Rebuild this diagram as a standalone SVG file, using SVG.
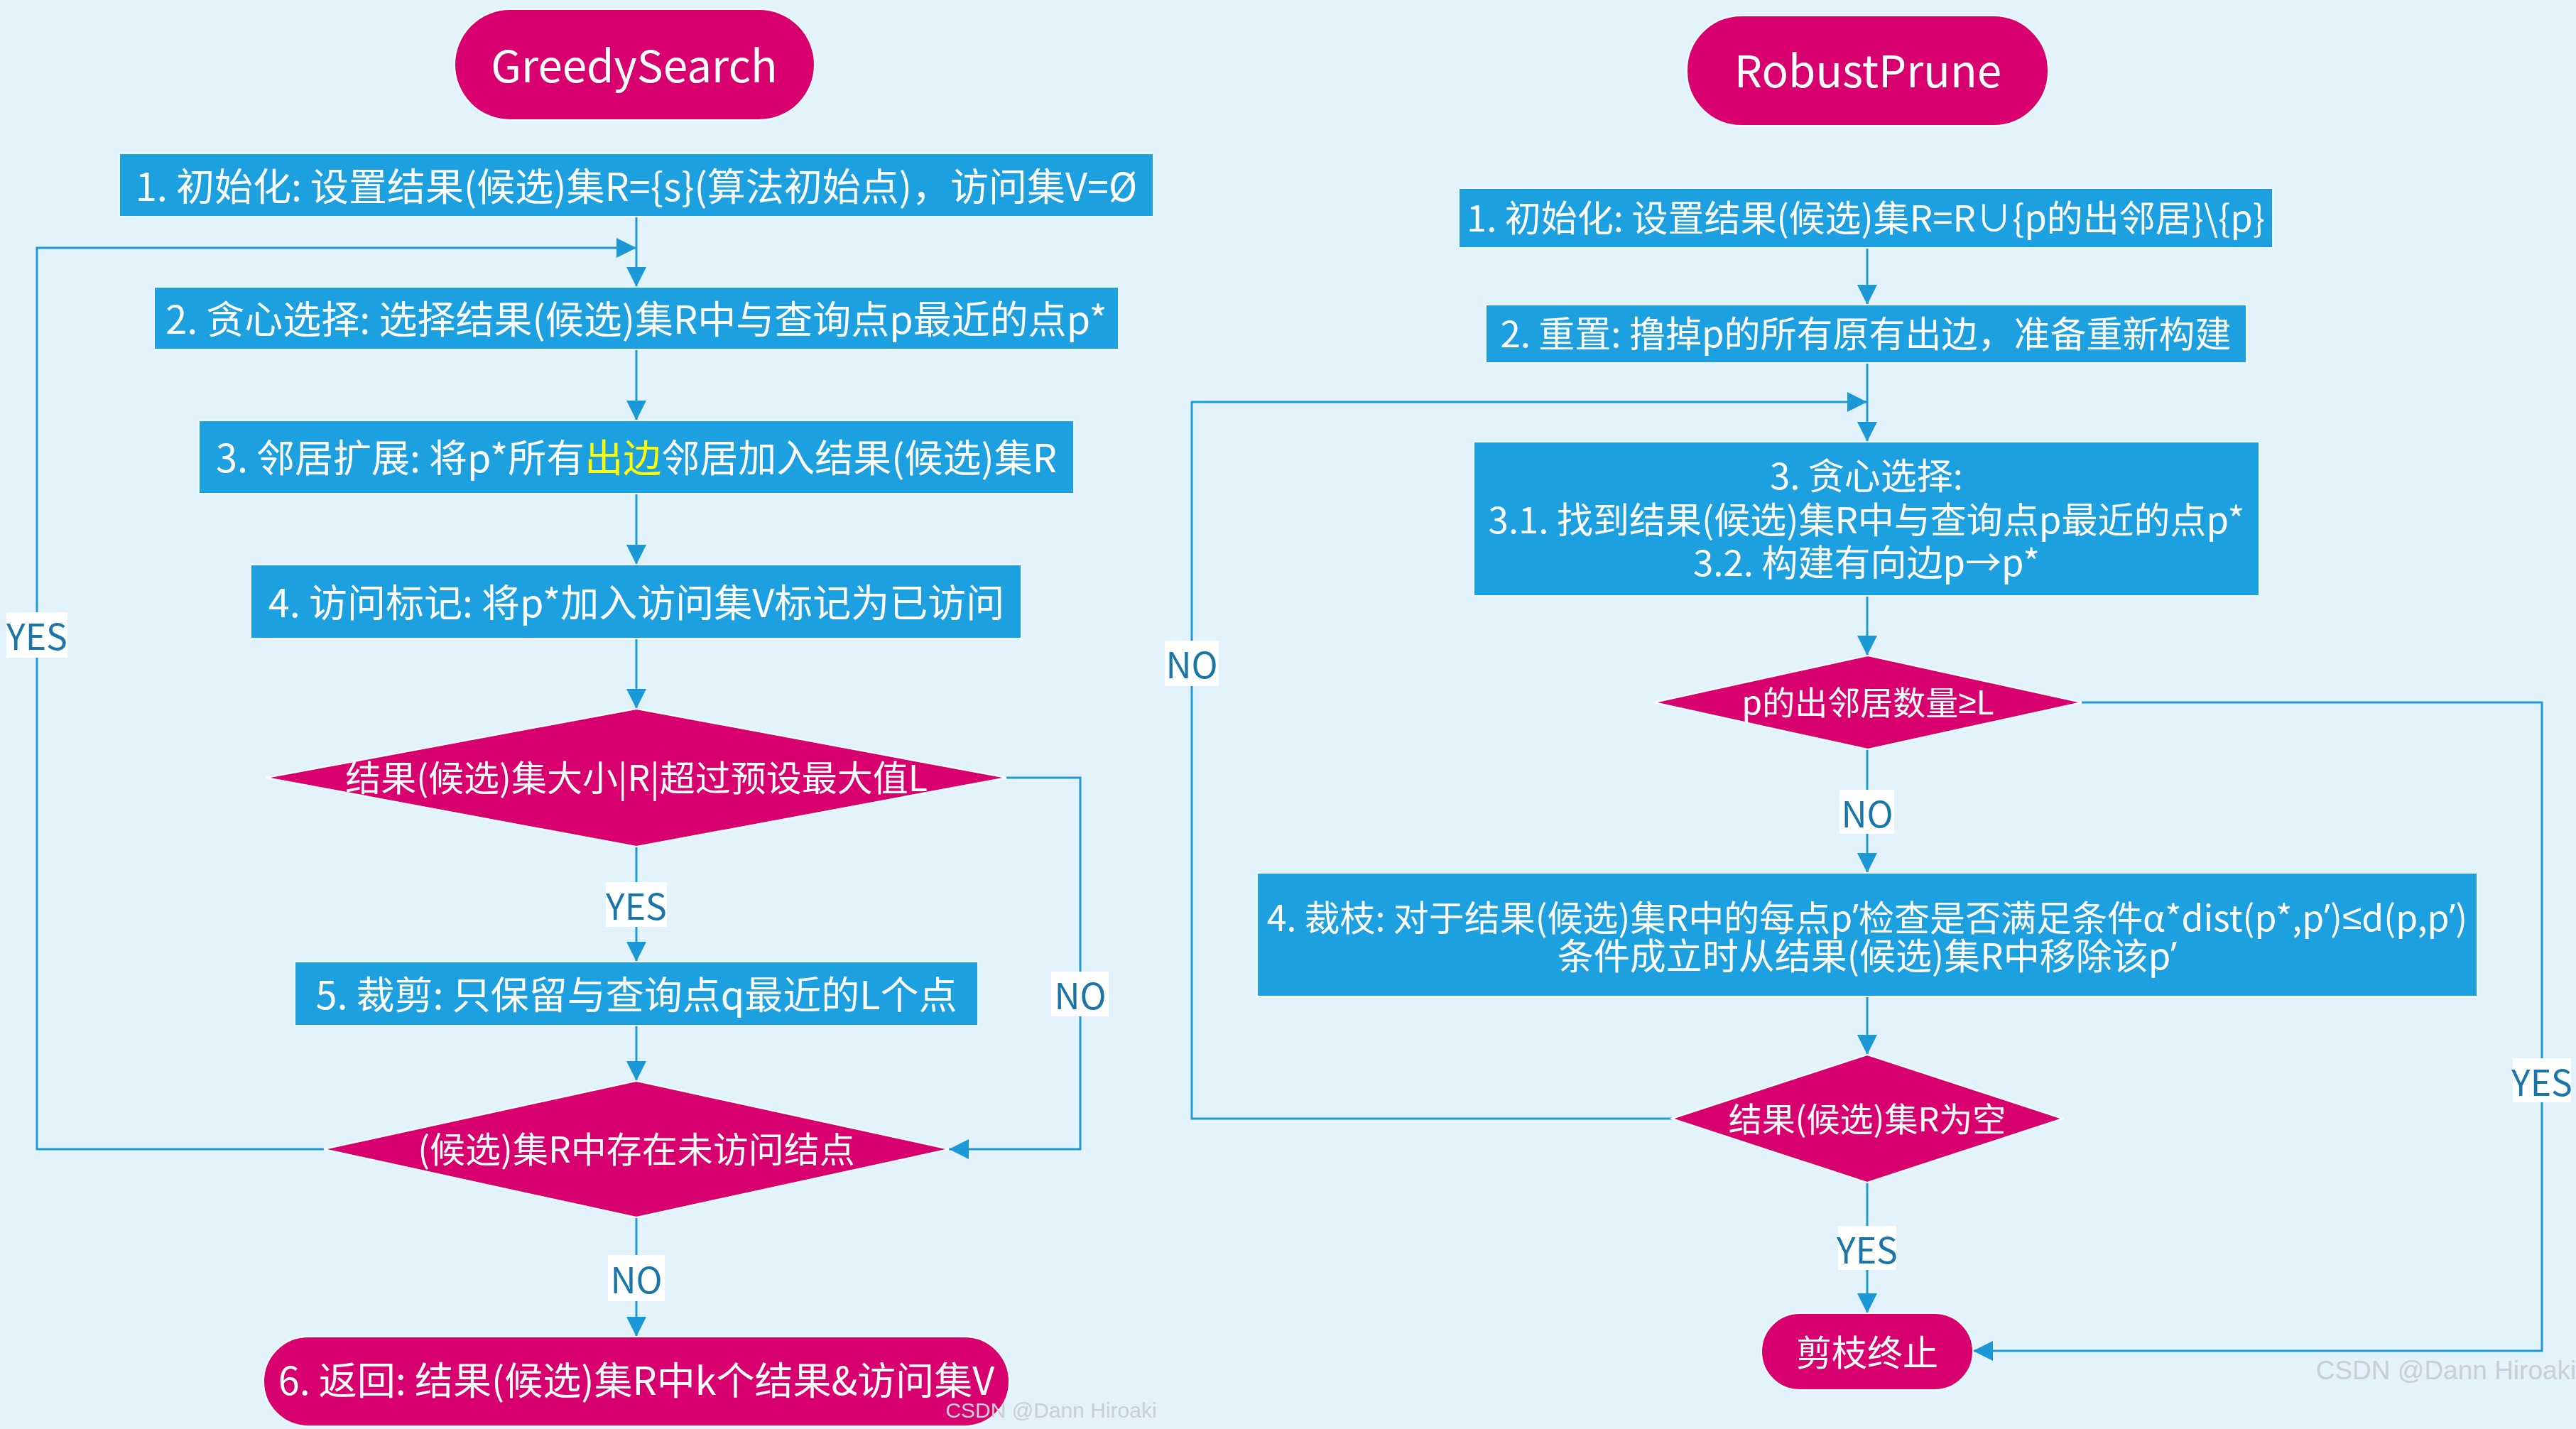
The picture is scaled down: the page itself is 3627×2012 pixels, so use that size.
<svg xmlns="http://www.w3.org/2000/svg" width="3627" height="2012" viewBox="0 0 3627 2012">
<style>
text{font-family:"Noto Sans CJK SC","Noto Sans",sans-serif;text-anchor:middle;dominant-baseline:central}
.lat{font-family:"Noto Sans","Liberation Sans",sans-serif}
.box{fill:#1ca0e0;stroke:#eef8fd;stroke-width:2}
.pink{fill:#d7006e;stroke:#ffffff;stroke-width:2}
.t{fill:#ffffff;font-size:54px}
.tr{fill:#ffffff;font-size:51px}
.td{fill:#ffffff;font-size:50px}
.title{fill:#ffffff;font-size:62px}
.con{fill:none;stroke:#1e9ad8;stroke-width:3}
.lblbg{fill:#ffffff}
.lbl{fill:#1a76a8;font-size:50px}
.wm{fill:#c9cfd3;font-family:"Liberation Sans",Arial,sans-serif}
</style>
<defs>
<marker id="arr" markerUnits="userSpaceOnUse" markerWidth="30" markerHeight="30" refX="28" refY="14" orient="auto">
<path d="M0,0 L28,14 L0,28 z" fill="#1b98d6"/>
</marker>
</defs>
<rect x="0" y="0" width="3627" height="2012" fill="#e2f3fb"/>

<g id="connectors">
<line class="con" x1="896" y1="305" x2="896" y2="404" marker-end="url(#arr)"/>
<path class="con" d="M456,1618 H52 V349 H896" marker-end="url(#arr)"/>
<line class="con" x1="896" y1="492" x2="896" y2="592" marker-end="url(#arr)"/>
<line class="con" x1="896" y1="695" x2="896" y2="795" marker-end="url(#arr)"/>
<line class="con" x1="896" y1="899" x2="896" y2="998" marker-end="url(#arr)"/>
<line class="con" x1="896" y1="1192" x2="896" y2="1354" marker-end="url(#arr)"/>
<path class="con" d="M1417,1095 H1521 V1618 H1336" marker-end="url(#arr)"/>
<line class="con" x1="896" y1="1444" x2="896" y2="1522" marker-end="url(#arr)"/>
<line class="con" x1="896" y1="1714" x2="896" y2="1882" marker-end="url(#arr)"/>

<line class="con" x1="2629" y1="349" x2="2629" y2="429" marker-end="url(#arr)"/>
<line class="con" x1="2629" y1="511" x2="2629" y2="622" marker-end="url(#arr)"/>
<path class="con" d="M2354,1575 H1678 V566 H2629" marker-end="url(#arr)"/>
<line class="con" x1="2629" y1="839" x2="2629" y2="923" marker-end="url(#arr)"/>
<line class="con" x1="2629" y1="1055" x2="2629" y2="1229" marker-end="url(#arr)"/>
<path class="con" d="M2931,989 H3579 V1902 H2778" marker-end="url(#arr)"/>
<line class="con" x1="2629" y1="1403" x2="2629" y2="1485" marker-end="url(#arr)"/>
<line class="con" x1="2629" y1="1665" x2="2629" y2="1849" marker-end="url(#arr)"/>

<rect class="lblbg" x="9" y="862" width="86" height="64"/>
<text class="lbl" x="52" y="893">YES</text>
<rect class="lblbg" x="853" y="1242" width="86" height="63"/>
<text class="lbl" x="896" y="1273">YES</text>
<rect class="lblbg" x="1480" y="1368" width="81" height="63"/>
<text class="lbl" x="1521" y="1399">NO</text>
<rect class="lblbg" x="856" y="1767" width="80" height="65"/>
<text class="lbl" x="896" y="1799">NO</text>

<rect class="lblbg" x="1640" y="902" width="76" height="64"/>
<text class="lbl" x="1678" y="933">NO</text>
<rect class="lblbg" x="2590" y="1112" width="77" height="62"/>
<text class="lbl" x="2629" y="1143">NO</text>
<rect class="lblbg" x="3538" y="1490" width="82" height="62"/>
<text class="lbl" x="3579" y="1521">YES</text>
<rect class="lblbg" x="2588" y="1726" width="82" height="62"/>
<text class="lbl" x="2629" y="1757">YES</text>
</g>

<g id="gs_title">
<rect class="pink" x="640" y="13" width="507" height="156" rx="78"/>
<text class="title" x="893" y="89">GreedySearch</text>
</g>
<g id="gs_step1">
<rect class="box" x="168" y="216" width="1456" height="89"/>
<text class="t" x="896" y="259">1. 初始化: 设置结果(候选)集R={s}(算法初始点)，访问集V=Ø</text>
</g>
<g id="gs_step2">
<rect class="box" x="217" y="404" width="1358" height="88"/>
<text class="t" x="896" y="446">2. 贪心选择: 选择结果(候选)集R中与查询点p最近的点p*</text>
</g>
<g id="gs_step3">
<rect class="box" x="280" y="592" width="1232" height="103"/>
<text class="t" x="896" y="641">3. 邻居扩展: 将p*所有<tspan fill="#ffff00">出边</tspan>邻居加入结果(候选)集R</text>
</g>
<g id="gs_step4">
<rect class="box" x="353" y="795" width="1085" height="104"/>
<text class="t" x="896" y="845">4. 访问标记: 将p*加入访问集V标记为已访问</text>
</g>
<g id="gs_dec1">
<polygon class="pink" points="375,1095 896,998 1417,1095 896,1192"/>
<text class="td" x="896" y="1092">结果(候选)集大小|R|超过预设最大值L</text>
</g>
<g id="gs_step5">
<rect class="box" x="415" y="1354" width="962" height="90"/>
<text class="t" x="896" y="1397">5. 裁剪: 只保留与查询点q最近的L个点</text>
</g>
<g id="gs_dec2">
<polygon class="pink" points="456,1618 896,1522 1336,1618 896,1714"/>
<text class="td" x="896" y="1615">(候选)集R中存在未访问结点</text>
</g>
<g id="gs_end">
<rect class="pink" x="371" y="1882" width="1050" height="126" rx="63"/>
<text class="t" x="896" y="1940">6. 返回: 结果(候选)集R中k个结果&amp;访问集V</text>
</g>

<g id="rp_title">
<rect class="pink" x="2375" y="22" width="509" height="155" rx="77"/>
<text class="title" x="2630" y="96">RobustPrune</text>
</g>
<g id="rp_step1">
<rect class="box" x="2054" y="265" width="1146" height="84"/>
<text class="tr" x="2627" y="304">1. 初始化: 设置结果(候选)集R=R∪{p的出邻居}\{p}</text>
</g>
<g id="rp_step2">
<rect class="box" x="2092" y="429" width="1071" height="82"/>
<text class="tr" x="2627" y="467">2. 重置: 撸掉p的所有原有出边，准备重新构建</text>
</g>
<g id="rp_step3">
<rect class="box" x="2075" y="622" width="1106" height="217"/>
<text class="tr"><tspan x="2628" y="667">3. 贪心选择:</tspan><tspan x="2628" y="729">3.1. 找到结果(候选)集R中与查询点p最近的点p*</tspan><tspan x="2628" y="789">3.2. 构建有向边p→p*</tspan></text>
</g>
<g id="rp_dec1">
<polygon class="pink" points="2329,989 2630,923 2931,989 2630,1055"/>
<text class="td" x="2630" y="986" style="font-size:46px">p的出邻居数量<tspan class="lat">≥</tspan>L</text>
</g>
<g id="rp_step4">
<rect class="box" x="1770" y="1229" width="1718" height="174"/>
<text class="tr"><tspan x="2629" y="1289" style="font-size:50px">4. 裁枝: 对于结果(候选)集R中的每点p<tspan class="lat">’</tspan>检查是否满足条件α*dist(p*,p<tspan class="lat">’</tspan>)<tspan class="lat">≤</tspan>d(p,p<tspan class="lat">’</tspan>)</tspan><tspan x="2629" y="1343">条件成立时从结果(候选)集R中移除该p<tspan class="lat">’</tspan></tspan></text>
</g>
<g id="rp_dec2">
<polygon class="pink" points="2354,1575 2629,1485 2904,1575 2629,1665"/>
<text class="td" x="2629" y="1572" style="font-size:47px">结果(候选)集R为空</text>
</g>
<g id="rp_end">
<rect class="pink" x="2480" y="1849" width="298" height="108" rx="54"/>
<text class="td" x="2629" y="1901">剪枝终止</text>
</g>

<text class="wm" x="1480" y="1985" style="font-size:30px">CSDN @Dann Hiroaki</text>
<text class="wm" x="3444" y="1929" style="font-size:37px">CSDN @Dann Hiroaki</text>
</svg>
